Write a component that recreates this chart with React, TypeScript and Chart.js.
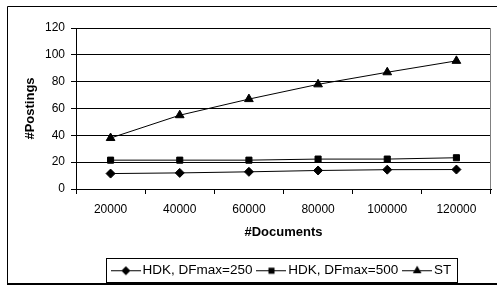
import React, { useEffect, useRef } from "react";
import { Chart, registerables } from "chart.js";

Chart.register(...registerables);

const categories = ["20000", "40000", "60000", "80000", "100000", "120000"];
const hdk250 = [11.5, 12, 12.8, 13.8, 14.4, 14.5];
const hdk500 = [21.5, 21.5, 21.5, 22.3, 22.3, 23.3];
const stValues = [38, 55, 67, 78, 87, 95.5];
const seriesNames = ["HDK, DFmax=250", "HDK, DFmax=500", "ST"];
const yTicks = { min: 0, max: 120, step: 20 };
const axisTitles = { x: "#Documents", y: "#Postings" };

const FONT = '"Liberation Sans", Arial, Helvetica, sans-serif';

function makeLegendImage(style: string, radius: number): HTMLCanvasElement {
  const c = document.createElement("canvas");
  c.width = 30;
  c.height = 14;
  const ctx = c.getContext("2d")!;
  ctx.strokeStyle = "#000";
  ctx.fillStyle = "#000";
  ctx.lineWidth = 1;
  ctx.beginPath();
  ctx.moveTo(0, 7.5);
  ctx.lineTo(30, 7.5);
  ctx.stroke();
  ctx.beginPath();
  const cx = 15, cy = 7.5;
  if (style === "rectRot") {
    ctx.moveTo(cx, cy - radius);
    ctx.lineTo(cx + radius, cy);
    ctx.lineTo(cx, cy + radius);
    ctx.lineTo(cx - radius, cy);
  } else if (style === "rect") {
    const s = radius * Math.SQRT1_2;
    ctx.rect(cx - s, cy - s, 2 * s, 2 * s);
  } else {
    ctx.moveTo(cx, cy - radius);
    ctx.lineTo(cx + radius * 0.866, cy + radius / 2);
    ctx.lineTo(cx - radius * 0.866, cy + radius / 2);
  }
  ctx.closePath();
  ctx.fill();
  return c;
}

const framePlugin = {
  id: "framePlugin",
  beforeDraw(chart: any) {
    const ctx = chart.ctx;
    ctx.save();
    ctx.fillStyle = "#fff";
    ctx.fillRect(0, 0, chart.width, chart.height);
    ctx.strokeStyle = "#000";
    ctx.lineWidth = 1;
    ctx.beginPath();
    ctx.moveTo(7.5, 284);
    ctx.lineTo(7.5, 6.5);
    ctx.lineTo(chart.width, 6.5);
    ctx.stroke();
    ctx.lineWidth = 2;
    ctx.beginPath();
    ctx.moveTo(7, 284);
    ctx.lineTo(chart.width, 284);
    ctx.stroke();
    ctx.restore();
  },
  beforeDatasetsDraw(chart: any) {
    const { ctx, chartArea } = chart;
    ctx.save();
    ctx.strokeStyle = "#808080";
    ctx.lineWidth = 1;
    ctx.beginPath();
    ctx.moveTo(Math.round(chartArea.right) - 0.5, chartArea.top);
    ctx.lineTo(Math.round(chartArea.right) - 0.5, chartArea.bottom);
    ctx.stroke();
    ctx.restore();
  },
  afterDraw(chart: any) {
    const legend = chart.legend;
    if (!legend || !legend.legendHitBoxes || !legend.legendHitBoxes.length) return;
    const hb = legend.legendHitBoxes;
    const first = hb[0];
    const last = hb[hb.length - 1];
    const left = first.left - 9.5;
    const right = last.left + last.width + 6;
    const cy = first.top + first.height / 2;
    const ctx = chart.ctx;
    ctx.save();
    ctx.strokeStyle = "#000";
    ctx.lineWidth = 1;
    ctx.strokeRect(Math.round(left) + 0.5, Math.round(cy - 12) + 0.5, Math.round(right - left), 24);
    ctx.restore();
  },
};

export default function App() {
  const ref = useRef<HTMLCanvasElement | null>(null);

  useEffect(() => {
    if (!ref.current) return;
    Chart.defaults.font.family = FONT;
    Chart.defaults.color = "#000";
    const legendImgs = [
      makeLegendImage("rectRot", 4.5),
      makeLegendImage("rect", 4.3),
      makeLegendImage("triangle", 5),
    ];
    const common = {
      borderColor: "#000",
      backgroundColor: "#000",
      pointBackgroundColor: "#000",
      pointBorderColor: "#000",
      borderWidth: 1,
      pointBorderWidth: 1,
      tension: 0,
      fill: false,
    };
    const chart = new Chart(ref.current, {
      type: "line",
      data: {
        labels: categories,
        datasets: [
          { ...common, label: seriesNames[0], data: hdk250, pointStyle: "rectRot", pointRadius: 4.5 },
          { ...common, label: seriesNames[1], data: hdk500, pointStyle: "rect", pointRadius: 4.3 },
          { ...common, label: seriesNames[2], data: stValues, pointStyle: "triangle", pointRadius: 5 },
        ],
      },
      options: {
        responsive: false,
        animation: false,
        devicePixelRatio: 1,
        layout: { padding: { left: 0, right: 5, top: 28, bottom: 0 } },
        plugins: {
          tooltip: { enabled: false },
          legend: {
            position: "bottom",
            fullSize: false,
            labels: {
              usePointStyle: true,
              pointStyleWidth: 20,
              padding: 9,
              color: "#000",
              font: { size: 13.5, family: FONT },
              generateLabels: (ch: any) =>
                Chart.defaults.plugins.legend.labels
                  .generateLabels(ch)
                  .map((l: any, i: number) => ({ ...l, pointStyle: legendImgs[i] })),
            },
          },
        },
        scales: {
          x: {
            type: "category",
            offset: true,
            grid: {
              offset: true,
              drawOnChartArea: false,
              drawTicks: true,
              tickLength: 5,
              color: "#000",
            },
            border: { display: true, color: "#000" },
            ticks: { padding: 8, maxRotation: 0, font: { size: 12, family: FONT }, color: "#000" },
            title: {
              display: true,
              text: axisTitles.x,
              font: { size: 13, weight: "bold", family: FONT },
              color: "#000",
              padding: { top: 4, bottom: 14 },
            },
            afterFit: (s: any) => {
              s.height = 65.5;
            },
          },
          y: {
            min: yTicks.min,
            max: yTicks.max,
            grid: { color: "#000", tickLength: 5, drawTicks: true },
            border: { display: true, color: "#000" },
            ticks: { stepSize: yTicks.step, padding: 6, font: { size: 12, family: FONT }, color: "#000" },
            title: {
              display: true,
              text: axisTitles.y,
              font: { size: 13, weight: "bold", family: FONT },
              color: "#000",
              padding: { top: 23, bottom: 0 },
            },
            afterFit: (s: any) => {
              s.width = 76;
            },
          },
        },
      } as any,
      plugins: [framePlugin],
    });
    return () => chart.destroy();
  }, []);

  return (
    <div style={{ position: "absolute", left: 0, top: 0, width: 497, height: 287 }}>
      <canvas ref={ref} width={497} height={287} style={{ width: 497, height: 287, display: "block" }} />
    </div>
  );
}
